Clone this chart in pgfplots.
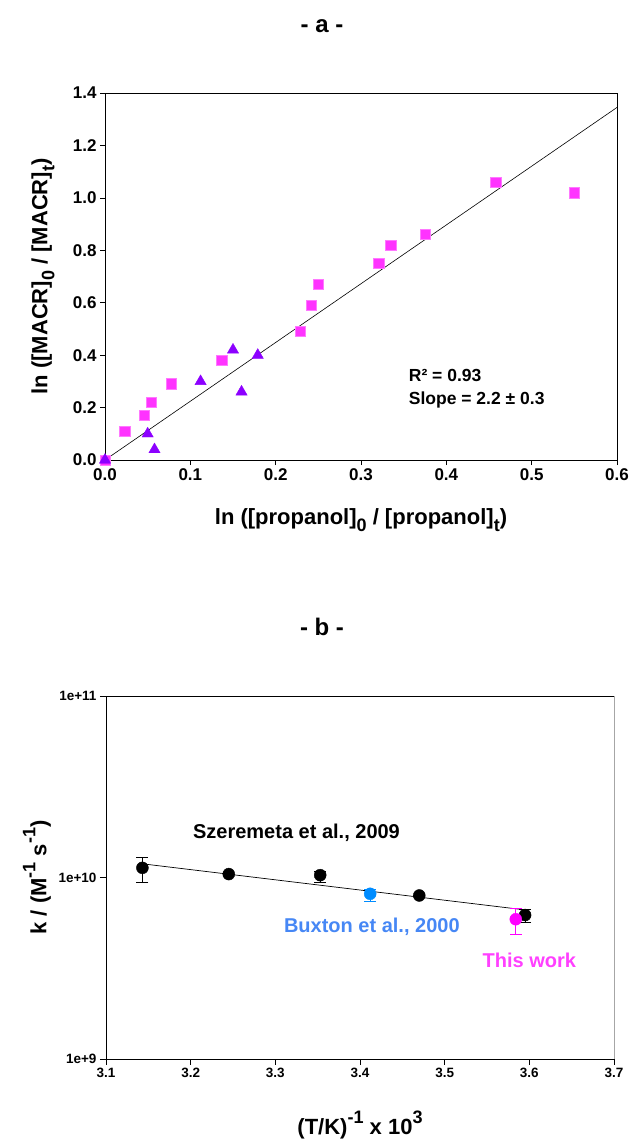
\documentclass[border=0pt]{standalone}
\usepackage{fontspec}
\setmainfont{Liberation Sans}
\usepackage{graphicx}
\usepackage{pgfplots}
\pgfplotsset{compat=1.18}

\definecolor{sqpink}{RGB}{255,51,255}
\definecolor{sqedge}{RGB}{255,120,255}
\definecolor{tripurple}{RGB}{140,0,255}
\definecolor{buxblue}{RGB}{0,140,255}
\definecolor{buxtext}{RGB}{70,135,245}
\definecolor{thispink}{RGB}{255,0,255}
\definecolor{thistext}{RGB}{255,64,255}

\newcommand{\fs}[1]{\fontsize{#1}{#1}\selectfont\bfseries}
\newcommand{\sub}[1]{\raisebox{-0.32em}{\scalebox{0.82}{#1}}}
\newcommand{\sups}[1]{\raisebox{0.5em}{\scalebox{0.82}{#1}}}

\begin{document}
\begin{tikzpicture}
\path[use as bounding box] (0,0) rectangle (630pt,-1143pt);

% titles
\node at (322pt,-26pt) {\fs{24}- a -};
\node at (322pt,-627pt) {\fs{24}- b -};

% ---------- panel a ----------
\begin{axis}[
  at={(105pt,-460pt)}, anchor=south west,
  scale only axis, width=512pt, height=367pt,
  xmin=0, xmax=0.6, ymin=0, ymax=1.4,
  xtick={0,0.1,0.2,0.3,0.4,0.5,0.6},
  xticklabels={0.0,0.1,0.2,0.3,0.4,0.5,0.6},
  ytick={0,0.2,0.4,0.6,0.8,1.0,1.2,1.4},
  yticklabels={0.0,0.2,0.4,0.6,0.8,1.0,1.2,1.4},
  xtick pos=bottom, ytick pos=left,
  tick align=outside, major tick length=5pt,
  tick style={black, line width=0.6pt},
  axis line style={line width=0.7pt},
  tick label style={font=\fs{17}},
  xlabel={ln ([propanol]\sub{0} / [propanol]\sub{t})},
  ylabel={ln ([MACR]\sub{0} / [MACR]\sub{t})},
  xlabel style={font=\fs{22}, at={(axis description cs:0.5,-0.165)}, anchor=center},
  ylabel style={font=\fs{22}, at={(axis description cs:-0.121,0.5)}, anchor=center},
  clip=false,
]
\addplot[black, line width=0.6pt] coordinates {(0,0) (0.6,1.345)};

\addplot[only marks, mark=square*, mark size=5.2pt,
  mark options={fill=sqpink, draw=sqedge, line width=0.6pt}] coordinates {
  (0,0) (0.023,0.11) (0.046,0.17) (0.054,0.22) (0.078,0.29) (0.137,0.38)
  (0.229,0.49) (0.242,0.59) (0.250,0.67) (0.321,0.75) (0.335,0.82)
  (0.375,0.86) (0.458,1.06) (0.550,1.02)
};

\addplot[only marks, mark=triangle*, mark size=6.5pt,
  mark options={fill=tripurple, draw=tripurple}] coordinates {
  (0,0) (0.050,0.10) (0.058,0.04) (0.112,0.30) (0.150,0.42) (0.160,0.26) (0.179,0.40)
};

\node[anchor=west, font=\fs{17.5}] at (axis cs:0.352,0.321) {R² = 0.93};
\node[anchor=west, font=\fs{17.5}] at (axis cs:0.352,0.229) {Slope = 2.2 ± 0.3};
\end{axis}

% ---------- panel b ----------
\begin{axis}[
  at={(106pt,-1059pt)}, anchor=south west,
  scale only axis, width=508pt, height=363pt,
  xmin=3.1, xmax=3.7,
  ymode=log, ymin=1e9, ymax=1e11,
  xtick={3.1,3.2,3.3,3.4,3.5,3.6,3.7},
  xticklabels={3.1,3.2,3.3,3.4,3.5,3.6,3.7},
  ytick={1e9,1e10,1e11},
  yticklabels={1e+9,1e+10,1e+11},
  yminorticks=false,
  xtick pos=bottom, ytick pos=left,
  tick align=outside, major tick length=6pt,
  tick style={black, line width=0.6pt},
  axis line style={line width=0.7pt},
  tick label style={font=\fs{13.5}},
  xlabel={(T/K)\sups{-1} x 10\sups{3}},
  ylabel={k / (M\sups{-1} s\sups{-1})},
  xlabel style={font=\fs{22}, at={(axis description cs:0.5,-0.182)}, anchor=center},
  ylabel style={font=\fs{22}, at={(axis description cs:-0.136,0.5)}, anchor=center},
  clip=false,
]
\draw[gray!70, line width=1pt] (rel axis cs:1,0) -- (rel axis cs:1,1);

\addplot[black, line width=0.7pt] coordinates {(3.148,1.182e10) (3.596,6.62e9)};

% Szeremeta et al., 2009
\addplot[only marks, mark=*, mark size=6pt, black,
  error bars/.cd, y dir=both, y explicit,
  error bar style={black, line width=0.6pt},
  error mark options={rotate=90, mark size=6pt, line width=0.6pt}] coordinates {
  (3.143,1.13e10) += (0,0.17e10) -= (0,0.19e10)
  (3.245,1.044e10) +- (0,0)
  (3.353,1.03e10) += (0,0.05e10) -= (0,0.09e10)
  (3.470,7.96e9) +- (0,0)
  (3.595,6.21e9) += (0,0.47e9) -= (0,0.56e9)
};

% Buxton et al., 2000
\addplot[only marks, mark=*, mark size=6pt, color=buxblue,
  error bars/.cd, y dir=both, y explicit,
  error bar style={buxblue, line width=0.6pt},
  error mark options={rotate=90, mark size=6pt, line width=0.6pt}] coordinates {
  (3.412,8.13e9) += (0,0.5e9) -= (0,0.78e9)
};

% This work
\addplot[only marks, mark=*, mark size=6pt, color=thispink,
  error bars/.cd, y dir=both, y explicit,
  error bar style={thispink, line width=0.6pt},
  error mark options={rotate=90, mark size=6pt, line width=0.6pt}] coordinates {
  (3.584,5.89e9) += (0,0.85e9) -= (0,1.02e9)
};

\node[font=\fs{20}] at (axis cs:3.325,1.76e10) {Szeremeta et al., 2009};
\node[font=\fs{20}, text=buxtext] at (axis cs:3.414,5.35e9) {Buxton et al., 2000};
\node[font=\fs{20}, text=thistext] at (axis cs:3.600,3.48e9) {This work};
\end{axis}
\end{tikzpicture}
\end{document}
